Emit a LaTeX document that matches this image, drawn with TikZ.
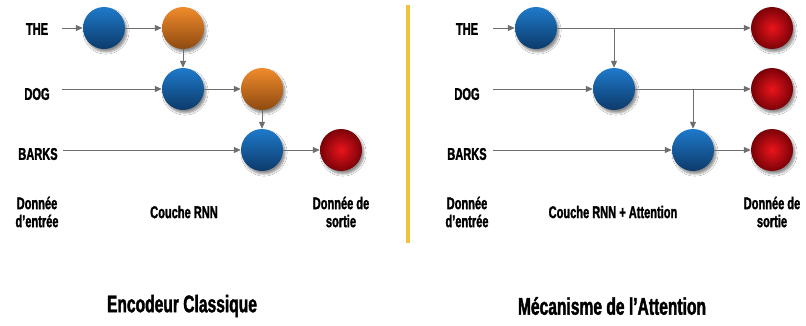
\documentclass[tikz,border=0pt]{standalone}
\usepackage{fontspec}
\setmainfont{Liberation Sans}[FakeStretch=0.65, BoldFeatures={FakeBold=1.6}]
\usetikzlibrary{shadows.blur, arrows.meta}
\definecolor{blueT}{HTML}{1E7ACB}
\definecolor{blueB}{HTML}{0D3A6A}
\definecolor{orT}{HTML}{F08B2C}
\definecolor{orB}{HTML}{8E4A10}
\definecolor{redI}{HTML}{EA141B}
\definecolor{redO}{HTML}{7A0208}
\definecolor{arrgray}{HTML}{6E6E6E}
\definecolor{barY}{HTML}{F2C43D}
\tikzset{
 nd/.style={circle, minimum size=42pt, inner sep=0pt,
   blur shadow={shadow xshift=2pt, shadow yshift=-3pt, shadow blur steps=6, shadow opacity=45}},
 bluec/.style={nd, top color=blueT, bottom color=blueB},
 orc/.style={nd, top color=orT, bottom color=orB},
 redc/.style={nd, inner color=redI, outer color=redO},
 arr/.style={draw=arrgray, line width=1pt, -{Triangle[length=7pt,width=6pt]}},
 lbl/.style={font=\bfseries\fontsize{17}{18}\selectfont, text=black, align=center, inner sep=0pt},
 ttl/.style={font=\bfseries\fontsize{24}{26}\selectfont, text=black, inner sep=0pt},
}
\begin{document}
\begin{tikzpicture}[x=1pt, y=-1pt]
\useasboundingbox[fill=white] (0,0) rectangle (806,325);
% divider
\fill[barY] (406,5) rectangle (410,243);
% ---------- left panel ----------
\node[lbl] (lt) at (37,29) {THE};
\node[lbl] (ld) at (37,94) {DOG};
\node[lbl] (lb) at (38,154) {BARKS};
\coordinate (lti) at (62,28);
\coordinate (ldi) at (62,89);
\coordinate (lbi) at (63,150);
\node[bluec] (lb1) at (104,28) {};
\node[orc] (lo1) at (183,28) {};
\node[bluec] (lb2) at (183,89) {};
\node[orc] (lo2) at (262,89) {};
\node[bluec] (lb3) at (262,150) {};
\node[redc] (lr) at (341,150) {};
\draw[arr] (lti) -- (lb1);
\draw[arr] (lb1) -- (lo1);
\draw[arr] (lo1) -- (lb2);
\draw[arr] (ldi) -- (lb2);
\draw[arr] (lb2) -- (lo2);
\draw[arr] (lo2) -- (lb3);
\draw[arr] (lbi) -- (lb3);
\draw[arr] (lb3) -- (lr);
\node[lbl] (lin) at (37,212) {Donnée\\d’entrée};
\node[lbl] (lmid) at (184,212) {Couche RNN};
\node[lbl] (lout) at (341,212) {Donnée de\\sortie};
\node[ttl] (ltitle) at (182,306) {Encodeur Classique};
% ---------- right panel ----------
\node[lbl] (rt) at (467,29) {THE};
\node[lbl] (rd) at (467,94) {DOG};
\node[lbl] (rb) at (467,154) {BARKS};
\coordinate (rti) at (493,28);
\coordinate (rdi) at (493,89);
\coordinate (rbi) at (493,150);
\node[bluec] (rb1) at (536,28) {};
\node[bluec] (rb2) at (614,89) {};
\node[bluec] (rb3) at (693,150) {};
\node[redc] (rr1) at (772,28) {};
\node[redc] (rr2) at (772,89) {};
\node[redc] (rr3) at (772,150) {};
\draw[arr] (rti) -- (rb1);
\draw[arr] (rdi) -- (rb2);
\draw[arr] (rbi) -- (rb3);
\draw[arr] (rb1) -- (rr1);
\draw[arr] (rb2) -- (rr2);
\draw[arr] (rb3) -- (rr3);
\draw[arr] (rb1 -| rb2) -- (rb2.north);
\draw[arr] (rb2 -| rb3) -- (rb3.north);
\node[lbl] (rin) at (467,212) {Donnée\\d’entrée};
\node[lbl] (rmid) at (613,212) {Couche RNN + Attention};
\node[lbl] (rout) at (772,212) {Donnée de\\sortie};
\node[ttl] (rtitle) at (612,306) {Mécanisme de l’Attention};
\end{tikzpicture}
\end{document}
